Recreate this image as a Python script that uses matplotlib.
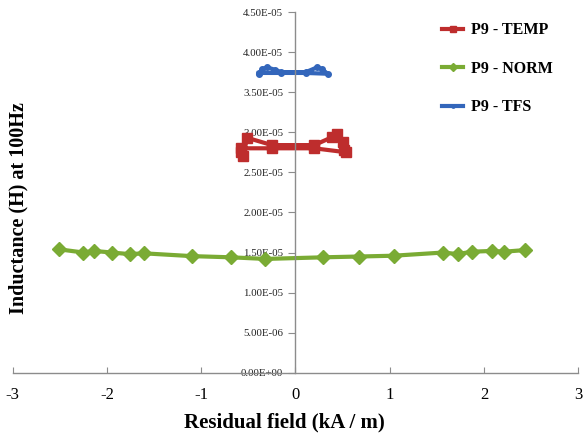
import matplotlib
matplotlib.use("Agg")
import matplotlib.pyplot as plt
from matplotlib.ticker import FuncFormatter, MultipleLocator

plt.rcParams['font.family'] = ['Liberation Serif', 'DejaVu Serif']

# TEMP series (H)
temp_x = [-0.58, -0.56, -0.51, -0.25, 0.20, 0.39, 0.44, 0.50, 0.52, 0.54, 0.20, -0.25, -0.58]
temp_y = [2.76e-5, 2.71e-5, 2.93e-5, 2.84e-5, 2.84e-5, 2.94e-5, 2.98e-5, 2.88e-5, 2.78e-5, 2.75e-5, 2.80e-5, 2.80e-5, 2.80e-5]

# NORM series
norm_x = [-2.51, -2.25, -2.14, -1.95, -1.76, -1.61, -1.10, -0.68, -0.32,
          0.29, 0.67, 1.04, 1.57, 1.72, 1.87, 2.09, 2.21, 2.43]
norm_y = [1.54e-5, 1.50e-5, 1.52e-5, 1.50e-5, 1.48e-5, 1.49e-5, 1.455e-5, 1.44e-5, 1.42e-5,
          1.44e-5, 1.45e-5, 1.46e-5, 1.50e-5, 1.48e-5, 1.51e-5, 1.52e-5, 1.51e-5, 1.53e-5]

# TFS series
tfs_x = [-0.39, -0.35, -0.30, -0.22, -0.15, 0.11, 0.23, 0.28, 0.34, 0.11, -0.15, -0.39]
tfs_y = [3.73e-5, 3.79e-5, 3.81e-5, 3.78e-5, 3.75e-5, 3.75e-5, 3.81e-5, 3.79e-5, 3.73e-5, 3.74e-5, 3.74e-5, 3.74e-5]

labels = ["P9 - TEMP", "P9 - NORM", "P9 - TFS"]
colors = ["#BE2D2D", "#7AAB34", "#3366BB"]

fig = plt.figure(figsize=(5.84, 4.37), dpi=100)
ax = fig.add_axes([0.0217, 0.147, 0.9685, 0.8255])

ax.plot(temp_x, temp_y, color=colors[0], lw=3, marker='s', ms=6.5, label=labels[0])
ax.plot(norm_x, norm_y, color=colors[1], lw=3, marker='D', ms=7, label=labels[1])
ax.plot(tfs_x, tfs_y, color=colors[2], lw=3, marker='o', ms=4, label=labels[2])

ax.set_xlim(-3, 3)
ax.set_ylim(0, 4.5e-5)
ax.xaxis.set_major_locator(MultipleLocator(1))
ax.yaxis.set_major_locator(MultipleLocator(0.5e-5))
ax.yaxis.set_major_formatter(FuncFormatter(lambda v, p: f"{v:.2E}"))
ax.xaxis.set_major_formatter(FuncFormatter(lambda v, p: f"{int(round(v))}"))

for s in ['top', 'right']:
    ax.spines[s].set_visible(False)
ax.spines['left'].set_position(('data', 0))
for s in ['left', 'bottom']:
    ax.spines[s].set_color('#8c8c8c')
    ax.spines[s].set_linewidth(1.0)
ax.tick_params(axis='x', direction='in', length=4, color='#8c8c8c', labelsize=12, pad=10, labelcolor='black')
ax.tick_params(axis='y', direction='out', length=5, color='#8c8c8c', labelsize=7.8, pad=4, labelcolor='#222222')

fig.text(18/584, 1 - 208/437, "Inductance (H) at 100Hz", rotation=90, ha='center', va='center',
         fontsize=14.5, fontweight='bold')
fig.text(284/584, 1 - 422/437, "Residual field (kA / m)", ha='center', va='center',
         fontsize=15, fontweight='bold')

leg = ax.legend(loc='upper left', bbox_to_anchor=(428/584, 1 - 8/437), bbox_transform=fig.transFigure,
                frameon=False, labelspacing=1.4, handlelength=1.3, handletextpad=0.5, markerscale=0.6,
                prop={'weight': 'bold', 'size': 11.5})

fig.savefig("out.png", dpi=100)
